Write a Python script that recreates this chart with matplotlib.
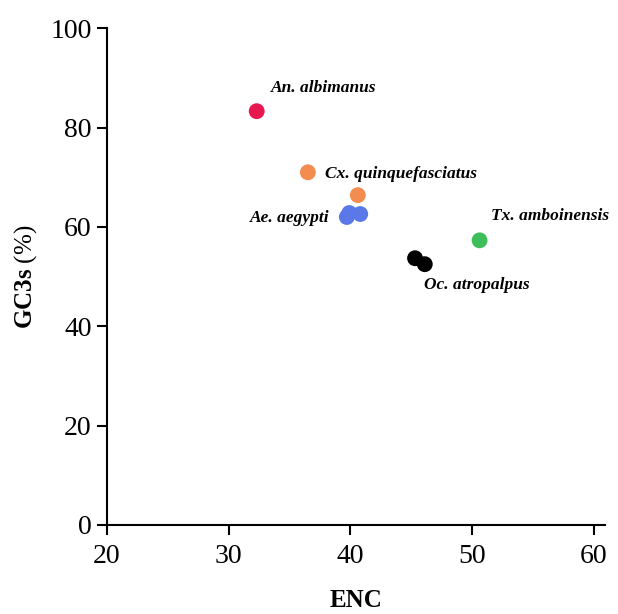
import matplotlib
matplotlib.use("Agg")
import matplotlib.pyplot as plt

species = ["An. albimanus", "Cx. quinquefasciatus", "Ae. aegypti", "Tx. amboinensis", "Oc. atropalpus"]
colors = ["#e8174f", "#f28c4f", "#5a78e8", "#3cbf5a", "#000000"]
enc = [[32.3], [36.5, 40.6], [39.7, 39.9, 40.8], [50.6], [45.3, 46.1]]
gc3s = [[83.3], [71.0, 66.4], [62.0, 62.8, 62.6], [57.3], [53.7, 52.5]]
label_x = [33.5, 37.9, 38.3, 51.5, 46.0]
label_y = [87.9, 70.6, 61.8, 62.2, 48.3]
label_ha = ["left", "left", "right", "left", "left"]
xticks = [20, 30, 40, 50, 60]
yticks = [0, 20, 40, 60, 80, 100]

plt.rcParams['font.family'] = ['Liberation Serif', 'DejaVu Serif']
plt.rcParams['mathtext.fontset'] = 'custom'
plt.rcParams['mathtext.rm'] = 'Liberation Serif'
plt.rcParams['mathtext.bf'] = 'Liberation Serif:bold'

fig = plt.figure(figsize=(6.18, 6.14), dpi=100)
ax = fig.add_axes([0.173, 0.145, 0.806, 0.809])

for xs, ys, c in zip(enc, gc3s, colors):
    ax.scatter(xs, ys, s=130, color=c, edgecolors='none', zorder=3)

for name, lx, ly, ha in zip(species, label_x, label_y, label_ha):
    ax.text(lx, ly, name, ha=ha, va='center', fontsize=12.5,
            fontweight='bold', fontstyle='italic')

ax.set_xlim(20, 60.9)
ax.set_ylim(0, 100)
ax.set_xticks(xticks)
ax.set_yticks(yticks)
for s in ['top', 'right']:
    ax.spines[s].set_visible(False)
for s in ['left', 'bottom']:
    ax.spines[s].set_linewidth(1.5)
ax.tick_params(direction='out', length=7, width=1.5, labelsize=20)
ax.tick_params(axis='x', pad=7)
ax.tick_params(axis='y', pad=4)
ax.set_xlabel("ENC", fontsize=18, fontweight='bold', labelpad=14)
ax.set_ylabel(r"$\mathbf{GC3s}$ (%)", fontsize=18, labelpad=8)

fig.savefig("out.png", dpi=100)
